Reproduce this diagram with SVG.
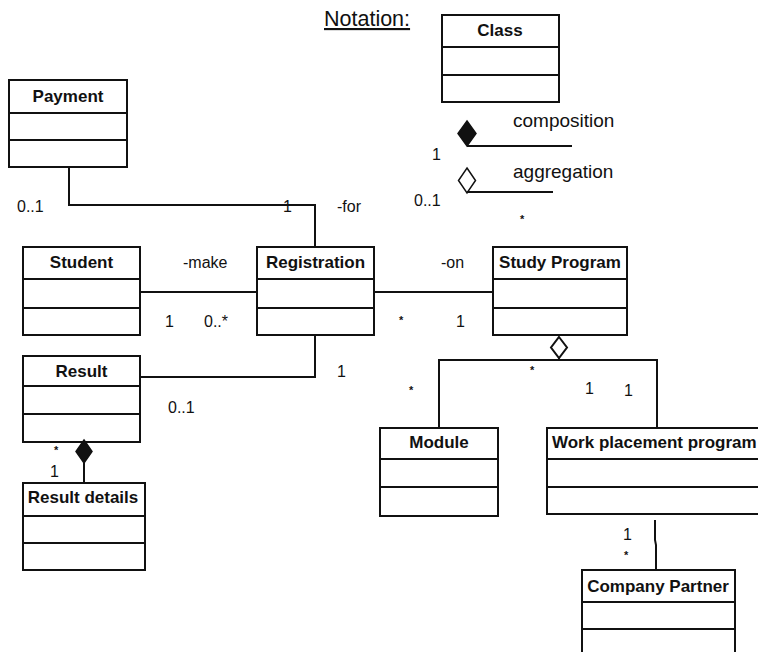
<svg xmlns="http://www.w3.org/2000/svg" width="758" height="652" viewBox="0 0 758 652">
<style>
.box{fill:#fff;stroke:#111;stroke-width:2}
.div{stroke:#111;stroke-width:2}
.ln{fill:none;stroke:#111;stroke-width:2}
.t{font-family:"Liberation Sans",Arial,sans-serif;font-weight:bold;font-size:17px;fill:#111;text-anchor:middle}
.l{font-family:"Liberation Sans",Arial,sans-serif;font-size:16px;fill:#111}
.s{font-family:"Liberation Sans",Arial,sans-serif;font-size:11px;font-weight:bold;fill:#111}
</style>
<rect width="758" height="652" fill="#fff"/>
<g id="notation">
<text class="l" x="324" y="26" style="font-size:21.5px" text-decoration="underline">Notation:</text>
</g>
<g id="class-legend">
<rect class="box" x="442" y="15" width="117" height="87"/>
<line class="div" x1="442" y1="47" x2="559" y2="47"/>
<line class="div" x1="442" y1="75" x2="559" y2="75"/>
<text class="t" x="500" y="36">Class</text>
</g>
<g id="legend-composition">
<polygon points="467,121 476,133.5 467,146 458,133.5" fill="#111" stroke="#111" stroke-width="1.5"/>
<line class="ln" x1="467" y1="146" x2="572" y2="146"/>
<text class="l" x="513" y="127" style="font-size:19px">composition</text>
<text class="l" x="432" y="160">1</text>
</g>
<g id="legend-aggregation">
<polygon points="467,168 475.5,180.5 467,193 458.5,180.5" fill="#fff" stroke="#111" stroke-width="1.5"/>
<line class="ln" x1="467" y1="192" x2="553" y2="192"/>
<text class="l" x="513" y="178" style="font-size:19px">aggregation</text>
<text class="l" x="414" y="206">0..1</text>
<text class="s" x="520" y="223">*</text>
</g>
<g id="payment">
<rect class="box" x="9" y="80" width="118" height="87"/>
<line class="div" x1="9" y1="113" x2="127" y2="113"/>
<line class="div" x1="9" y1="140" x2="127" y2="140"/>
<text class="t" x="68" y="102">Payment</text>
</g>
<g id="student">
<rect class="box" x="23" y="247" width="117" height="88"/>
<line class="div" x1="23" y1="279" x2="140" y2="279"/>
<line class="div" x1="23" y1="308" x2="140" y2="308"/>
<text class="t" x="81.5" y="268">Student</text>
</g>
<g id="registration">
<rect class="box" x="257" y="247" width="117" height="88"/>
<line class="div" x1="257" y1="279" x2="374" y2="279"/>
<line class="div" x1="257" y1="308" x2="374" y2="308"/>
<text class="t" x="315.5" y="268">Registration</text>
</g>
<g id="study-program">
<rect class="box" x="493" y="247" width="134" height="88"/>
<line class="div" x1="493" y1="279" x2="627" y2="279"/>
<line class="div" x1="493" y1="308" x2="627" y2="308"/>
<text class="t" x="560" y="268">Study Program</text>
</g>
<g id="result">
<rect class="box" x="23" y="356" width="117" height="86"/>
<line class="div" x1="23" y1="386" x2="140" y2="386"/>
<line class="div" x1="23" y1="414" x2="140" y2="414"/>
<text class="t" x="81.5" y="377">Result</text>
</g>
<g id="result-details">
<rect class="box" x="23" y="483" width="122" height="87"/>
<line class="div" x1="23" y1="516" x2="145" y2="516"/>
<line class="div" x1="23" y1="543" x2="145" y2="543"/>
<text class="t" x="83" y="503">Result details</text>
</g>
<g id="module">
<rect class="box" x="380" y="428" width="118" height="88"/>
<line class="div" x1="380" y1="459" x2="498" y2="459"/>
<line class="div" x1="380" y1="487" x2="498" y2="487"/>
<text class="t" x="439" y="448">Module</text>
</g>
<g id="work-placement">
<rect class="box" x="547" y="428" width="225" height="86"/>
<line class="div" x1="547" y1="459" x2="772" y2="459"/>
<line class="div" x1="547" y1="487" x2="772" y2="487"/>
<text class="t" x="552" y="448" style="text-anchor:start">Work placement program</text>
</g>
<g id="company-partner">
<rect class="box" x="582" y="570" width="153" height="95"/>
<line class="div" x1="582" y1="602" x2="735" y2="602"/>
<line class="div" x1="582" y1="629" x2="735" y2="629"/>
<text class="t" x="658" y="592">Company Partner</text>
</g>
<g id="connectors">
<polyline class="ln" points="69,167 69,205 315,205 315,247"/>
<text class="l" x="17" y="212">0..1</text>
<text class="l" x="283" y="212">1</text>
<text class="l" x="337" y="212">-for</text>
<line class="ln" x1="140" y1="292" x2="257" y2="292"/>
<text class="l" x="183" y="268">-make</text>
<text class="l" x="165" y="327">1</text>
<text class="l" x="204" y="327">0..*</text>
<polyline class="ln" points="315,335 315,377 140,377"/>
<text class="l" x="337" y="377">1</text>
<text class="l" x="168" y="413">0..1</text>
<line class="ln" x1="374" y1="292" x2="493" y2="292"/>
<text class="l" x="441" y="268">-on</text>
<text class="s" x="399" y="324">*</text>
<text class="l" x="456" y="327">1</text>
<polygon points="559,337 567,347.5 559,358 551,347.5" fill="#fff" stroke="#111" stroke-width="2"/>
<polyline class="ln" points="439,428 439,360 657,360 657,428"/>
<line class="ln" x1="559" y1="358" x2="559" y2="360"/>
<text class="s" x="530" y="374">*</text>
<text class="s" x="409" y="394">*</text>
<text class="l" x="585" y="394">1</text>
<text class="l" x="624" y="396">1</text>
<polyline class="ln" points="655,520 655,540 656,545 656,570"/>
<text class="l" x="623" y="540">1</text>
<text class="s" x="624" y="559">*</text>
<polygon points="84,440 92,451.5 84,463 76,451.5" fill="#111" stroke="#111" stroke-width="1.5"/>
<line class="ln" x1="84" y1="463" x2="84" y2="483"/>
<text class="s" x="54" y="454">*</text>
<text class="l" x="50" y="477">1</text>
</g>
</svg>
